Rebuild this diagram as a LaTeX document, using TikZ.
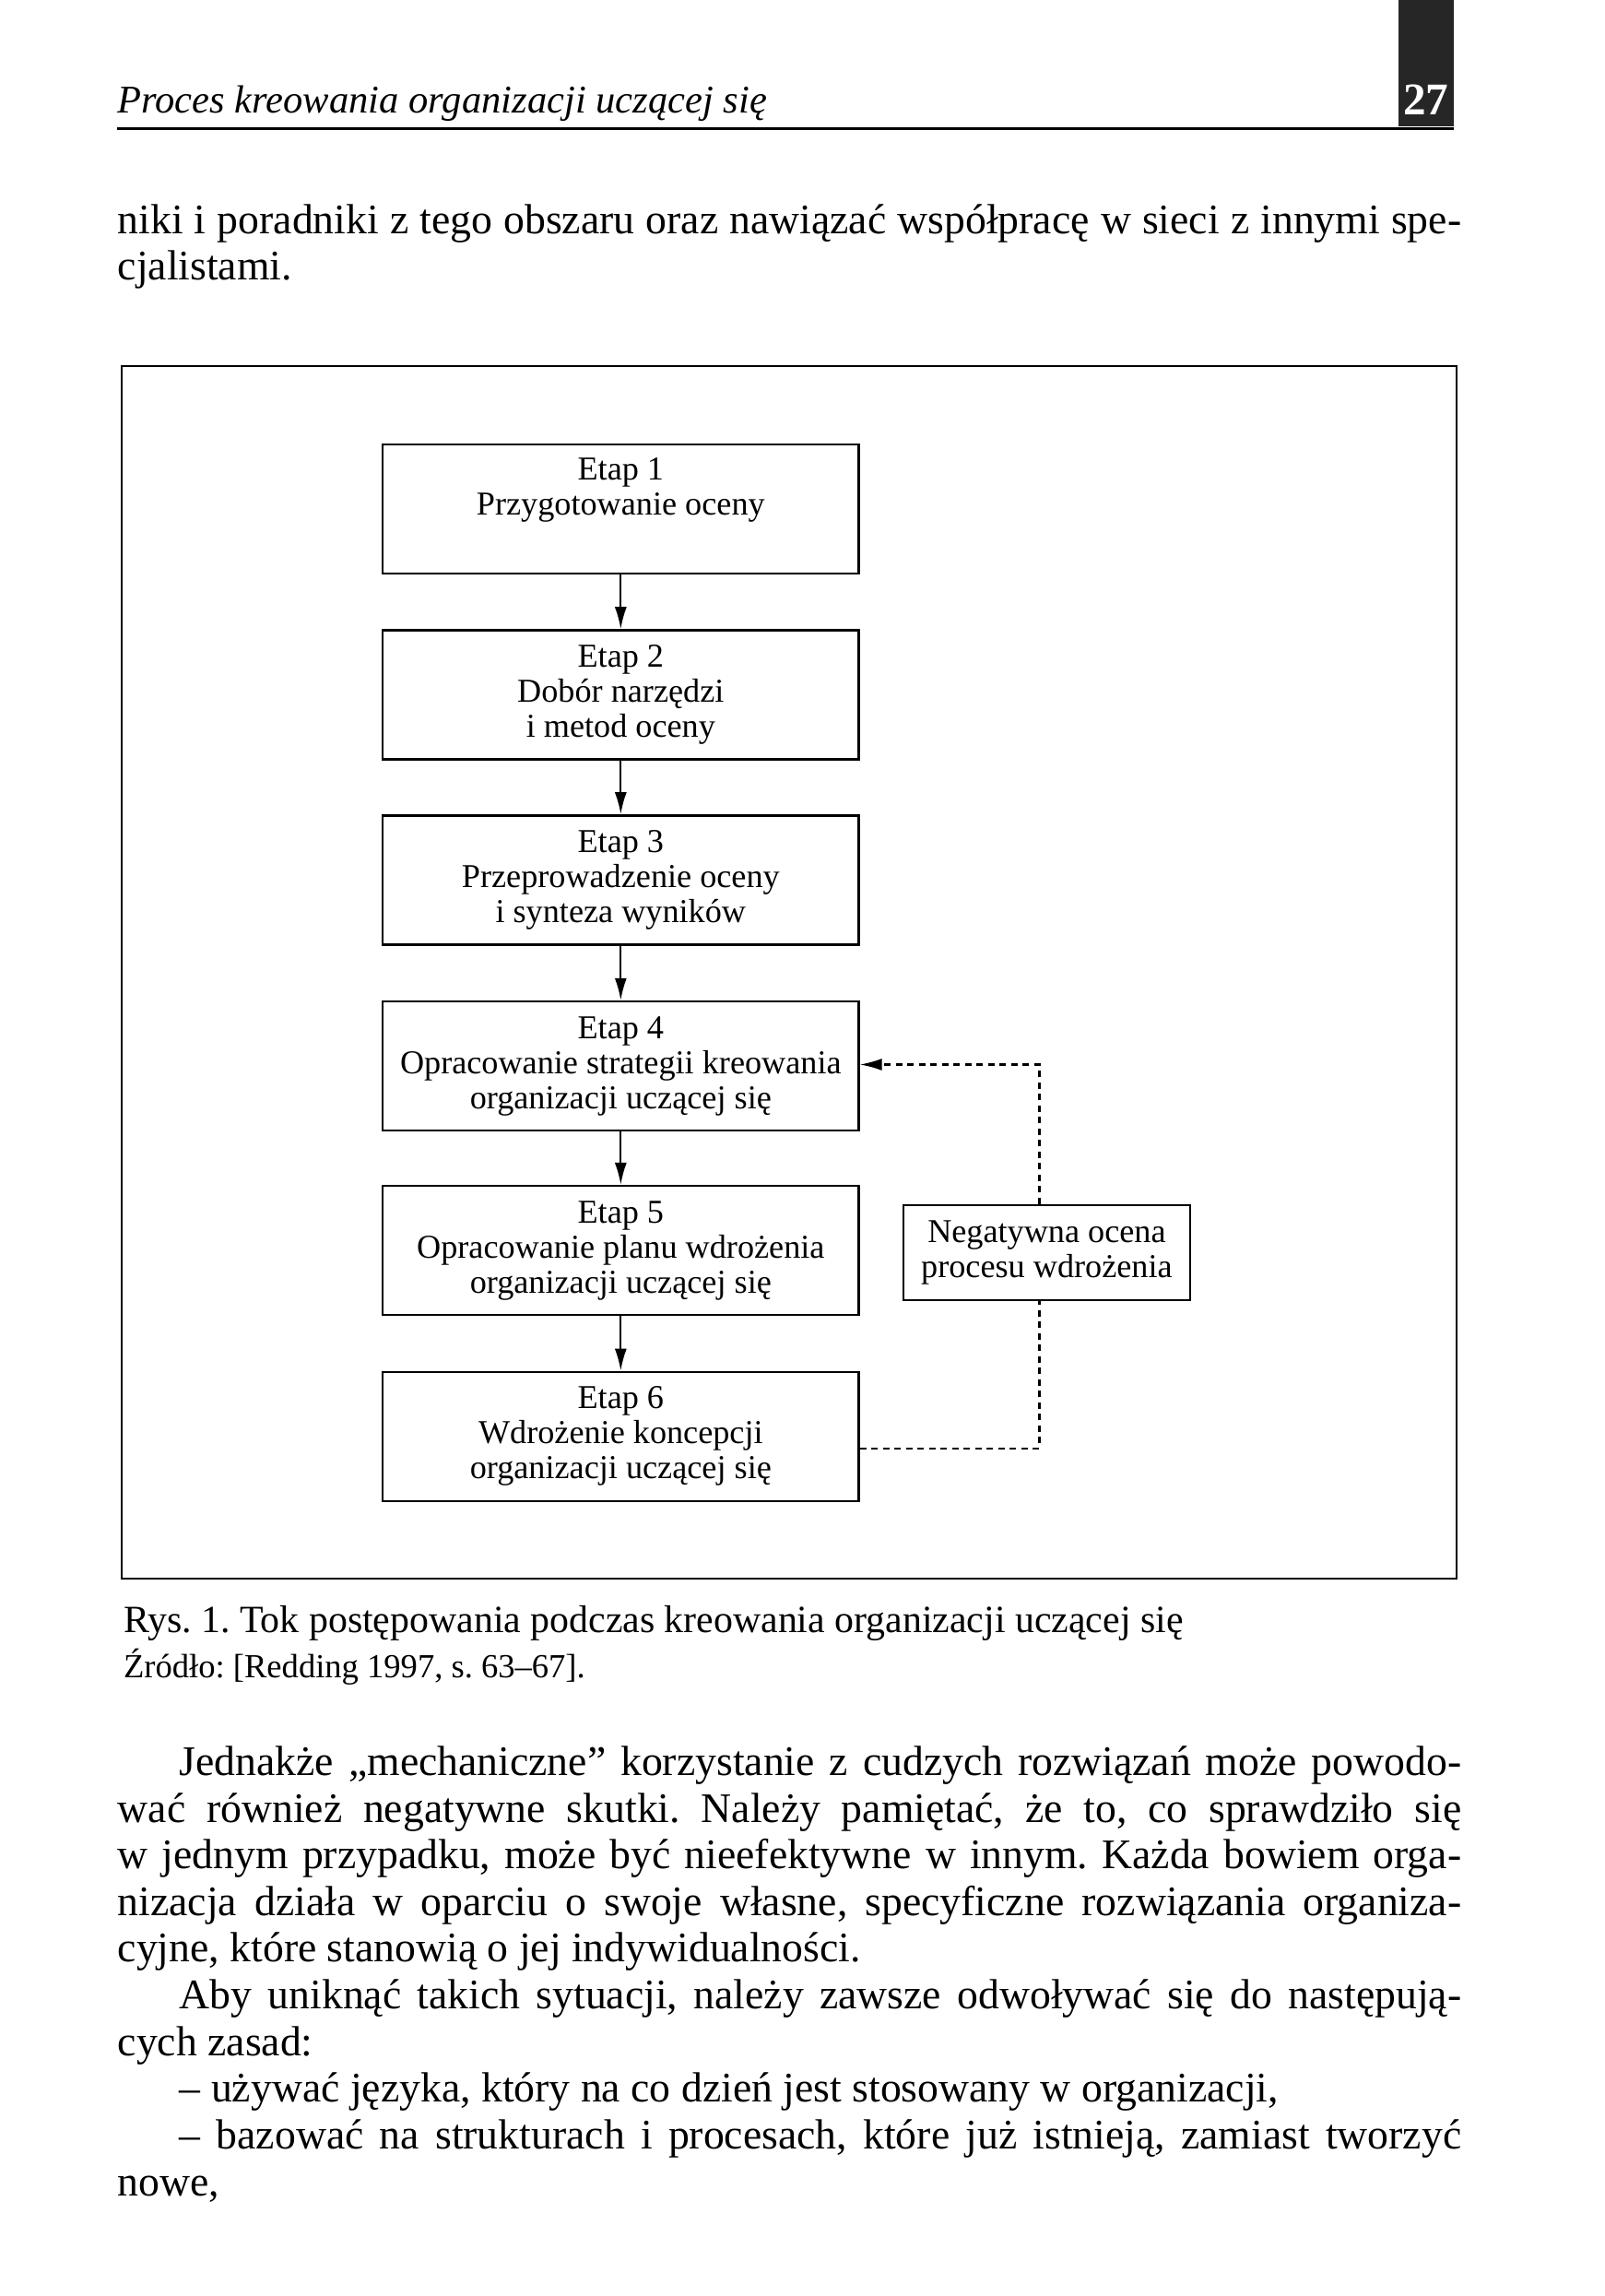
\documentclass[tikz,border=0pt]{standalone}
\usepackage{fontspec}
\setmainfont{Liberation Serif}
\frenchspacing
\usetikzlibrary{positioning, arrows.meta, calc}

\tikzset{
  etapbox/.style={draw, line width=0.7pt, minimum width=51.6mm, minimum height=14mm,
    align=center, inner sep=1mm, font=\fontsize{10.3}{10.8}\selectfont},
  notebox/.style={draw, line width=0.7pt, minimum width=31.1mm, minimum height=10.3mm,
    align=center, inner sep=1mm, font=\fontsize{10.3}{10.8}\selectfont},
  flow/.style={-{Latex[length=2.4mm, width=1.3mm]}, line width=0.6pt},
  fb/.style={line width=0.6pt, dash pattern=on 0.7mm off 0.55mm},
  bodytext/.style={inner sep=0pt, text width=145.7mm, align=justify,
    font=\fontsize{13}{14.4}\selectfont}
}

\begin{document}
\begin{tikzpicture}[x=0.15876mm, y=-0.15876mm]
  \useasboundingbox (0,0) rectangle (1096,1568);
  \fill[white] (0,0) rectangle (1096,1568);

  % running head
  \fill[black!85] (955,0) rectangle (993,86);
  \node[text=white, font=\bfseries\fontsize{14}{14}\selectfont] (pagenum) at (974,68) {27};
  \draw[line width=0.7pt] (80,88) -- (993,88);
  \node[anchor=base west, inner sep=0pt, font=\itshape\fontsize{12.1}{14}\selectfont]
    (runhead) at (80,77) {Proces kreowania organizacji uczącej się};

  % end of previous paragraph
  \node[bodytext, anchor=north west] (prevpar) at (80,139)
    {niki i poradniki z tego obszaru oraz nawiązać współpracę w sieci z innymi spe-\linebreak
     cjalistami.};

  % figure frame
  \draw[line width=0.6pt] (83,250) rectangle (995,1078);

  % stages
  \node[etapbox] (e1) at (424,347.5) {Etap 1\\Przygotowanie oceny\\\strut};
  \node[etapbox] (e2) at (424,474.5) {Etap 2\\Dobór narzędzi\\i metod oceny};
  \node[etapbox] (e3) at (424,601) {Etap 3\\Przeprowadzenie oceny\\i synteza wyników};
  \node[etapbox] (e4) at (424,728) {Etap 4\\Opracowanie strategii kreowania\\organizacji uczącej się};
  \node[etapbox] (e5) at (424,854) {Etap 5\\Opracowanie planu wdrożenia\\organizacji uczącej się};
  \node[etapbox] (e6) at (424,981) {Etap 6\\Wdrożenie koncepcji\\organizacji uczącej się};
  \node[notebox] (neg) at (715,855.5) {Negatywna ocena\\procesu wdrożenia};

  \foreach \a/\b in {e1/e2, e2/e3, e3/e4, e4/e5, e5/e6}
    \draw[flow] (\a) -- (\b);

  % feedback loop
  \coordinate (fbtop) at (710,727);
  \coordinate (fbbot) at (710,989);
  \draw[fb] (e6.east |- fbbot) -- (fbbot) -- (fbbot |- neg.south);
  \draw[fb, -{Latex[length=2.4mm, width=1.3mm]}] (fbbot |- neg.north) -- (fbtop) -- (e4.east |- fbtop);

  % caption
  \node[anchor=base west, inner sep=0pt, font=\fontsize{11.9}{14}\selectfont]
    (caption) at (84,1115) {Rys. 1. Tok postępowania podczas kreowania organizacji uczącej się};
  \node[anchor=base west, inner sep=0pt, font=\fontsize{10.4}{12}\selectfont]
    (source) at (84,1146) {Źródło: [Redding 1997, s. 63–67].};

  % following text
  \node[bodytext, anchor=north west] (nextpar) at (80,1192)
    {\hyphenpenalty=10000 \tolerance=10000
     \hspace*{6.7mm}Jednakże „mechaniczne” korzystanie z cudzych rozwiązań może powodo-\linebreak
     wać również negatywne skutki. Należy pamiętać, że to, co sprawdziło się\linebreak
     w jednym przypadku, może być nieefektywne w innym. Każda bowiem orga-\linebreak
     nizacja działa w oparciu o swoje własne, specyficzne rozwiązania organiza-\linebreak
     cyjne, które stanowią o jej indywidualności.\par
     \hspace*{6.7mm}Aby uniknąć takich sytuacji, należy zawsze odwoływać się do następują-\linebreak
     cych zasad:\par
     \hspace*{6.7mm}– używać języka, który na co dzień jest stosowany w organizacji,\par
     \hspace*{6.7mm}– bazować na strukturach i procesach, które już istnieją, zamiast tworzyć\linebreak
     nowe,};
\end{tikzpicture}
\end{document}
